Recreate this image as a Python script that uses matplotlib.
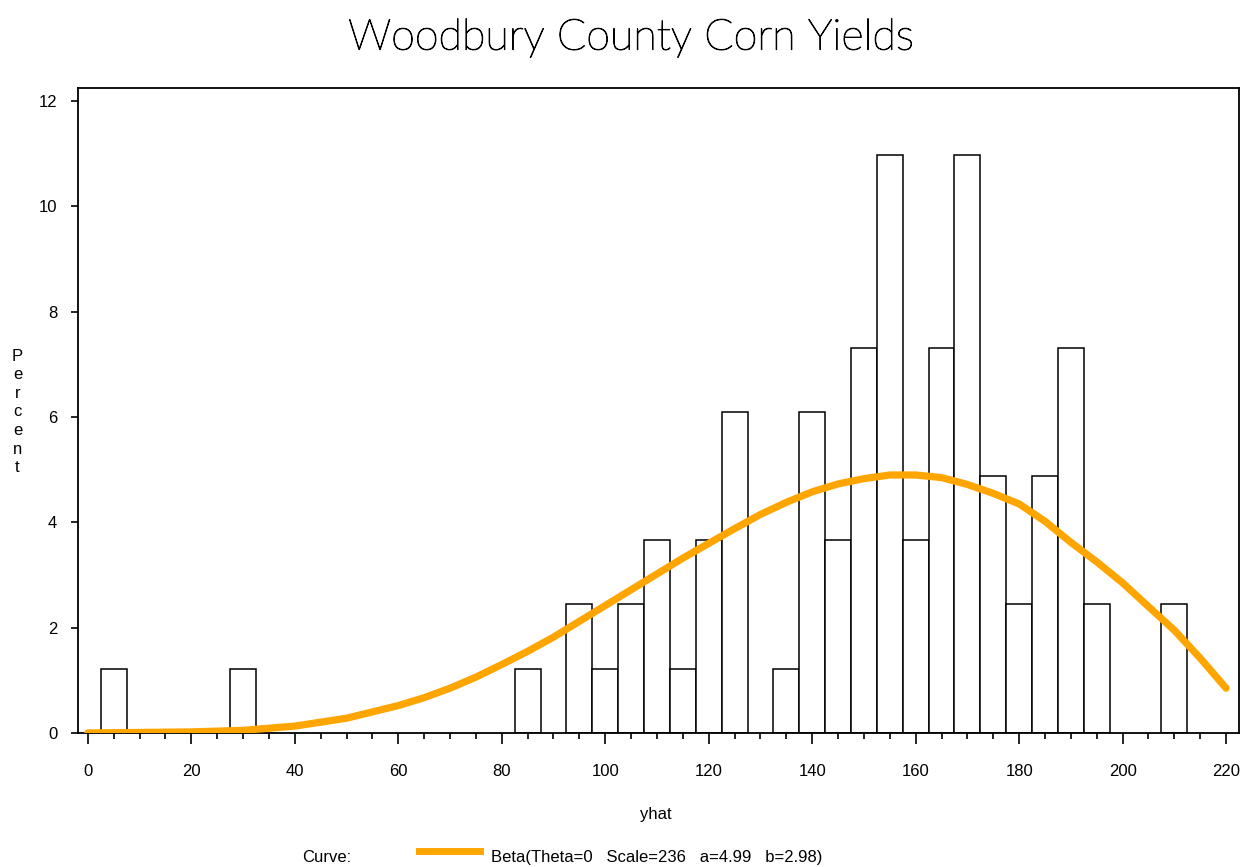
import numpy as np
import matplotlib
matplotlib.use('Agg')
import matplotlib.pyplot as plt
import matplotlib.patheffects as pe
from matplotlib.ticker import MultipleLocator

# histogram bins (midpoints) and percent of observations
bin_mid = [5, 30, 85, 95, 100, 105, 110, 115, 120, 125, 135, 140, 145,
           150, 155, 160, 165, 170, 175, 180, 185, 190, 195, 210]
pct = [1.22, 1.22, 1.22, 2.44, 1.22, 2.44, 3.66, 1.22, 3.66, 6.10, 1.22, 6.10, 3.66,
       7.32, 10.98, 3.66, 7.32, 10.98, 4.88, 2.44, 4.88, 7.32, 2.44, 2.44]

# fitted beta curve
curve_x = [0, 10, 20, 30, 40, 50, 60, 65, 70, 75, 80, 85, 90, 95, 100, 105, 110,
           115, 120, 125, 130, 135, 140, 145, 150, 155, 160, 165, 170, 175, 180,
           185, 190, 195, 200, 205, 210, 215, 220]
curve_y = [0, 0.01, 0.02, 0.05, 0.13, 0.28, 0.52, 0.67, 0.85, 1.06, 1.30, 1.55, 1.82,
           2.12, 2.42, 2.72, 3.02, 3.32, 3.60, 3.88, 4.15, 4.38, 4.58, 4.73, 4.83,
           4.90, 4.90, 4.85, 4.72, 4.55, 4.35, 4.02, 3.62, 3.25, 2.85, 2.40, 1.95,
           1.42, 0.85]

plt.rcParams['font.family'] = ['Liberation Sans', 'DejaVu Sans']

fig = plt.figure(figsize=(12.44, 8.67), dpi=100)
ax = fig.add_axes([0.0627, 0.1546, 0.9333, 0.7439])

ax.bar(bin_mid, pct, width=5, align='center', facecolor='white',
       edgecolor='black', linewidth=1.1, zorder=2)
ax.plot(curve_x, curve_y, color='#FFA500', linewidth=5.2, solid_capstyle='round', zorder=3)

ax.set_xlim(-1.9, 222.5)
ax.set_ylim(0, 12.25)
ax.xaxis.set_major_locator(MultipleLocator(20))
ax.xaxis.set_minor_locator(MultipleLocator(5))
ax.yaxis.set_major_locator(MultipleLocator(2))
ax.tick_params(axis='x', which='major', direction='out', length=8, width=1.2,
               labelsize=12, pad=14)
ax.tick_params(axis='x', which='minor', direction='out', length=4.5, width=1.2)
ax.tick_params(axis='y', which='major', direction='out', length=5, width=1.2,
               labelsize=12, pad=10)
for s in ax.spines.values():
    s.set_linewidth(1.3)

fig.text(0.507, 0.956, 'Woodbury County Corn Yields', ha='center', va='center',
         fontsize=31, family=['Lato', 'DejaVu Sans'], fontweight='light', color='black',
         path_effects=[pe.withStroke(linewidth=0.7, foreground='black')])
fig.text(0.527, 0.06, 'yhat', ha='center', va='center', fontsize=12)
fig.text(0.014, 0.525, '\n'.join('Percent'), ha='center', va='center',
         fontsize=12, linespacing=1.3)

fig.text(0.243, 0.011, 'Curve:', ha='left', va='center', fontsize=12)
fig.add_artist(plt.Line2D([0.337, 0.386], [0.018, 0.018], color='#FFA500',
                          linewidth=5, transform=fig.transFigure))
fig.text(0.395, 0.011, 'Beta(Theta=0   Scale=236   a=4.99   b=2.98)', ha='left',
         va='center', fontsize=12)

fig.savefig('out.png', dpi=100)
